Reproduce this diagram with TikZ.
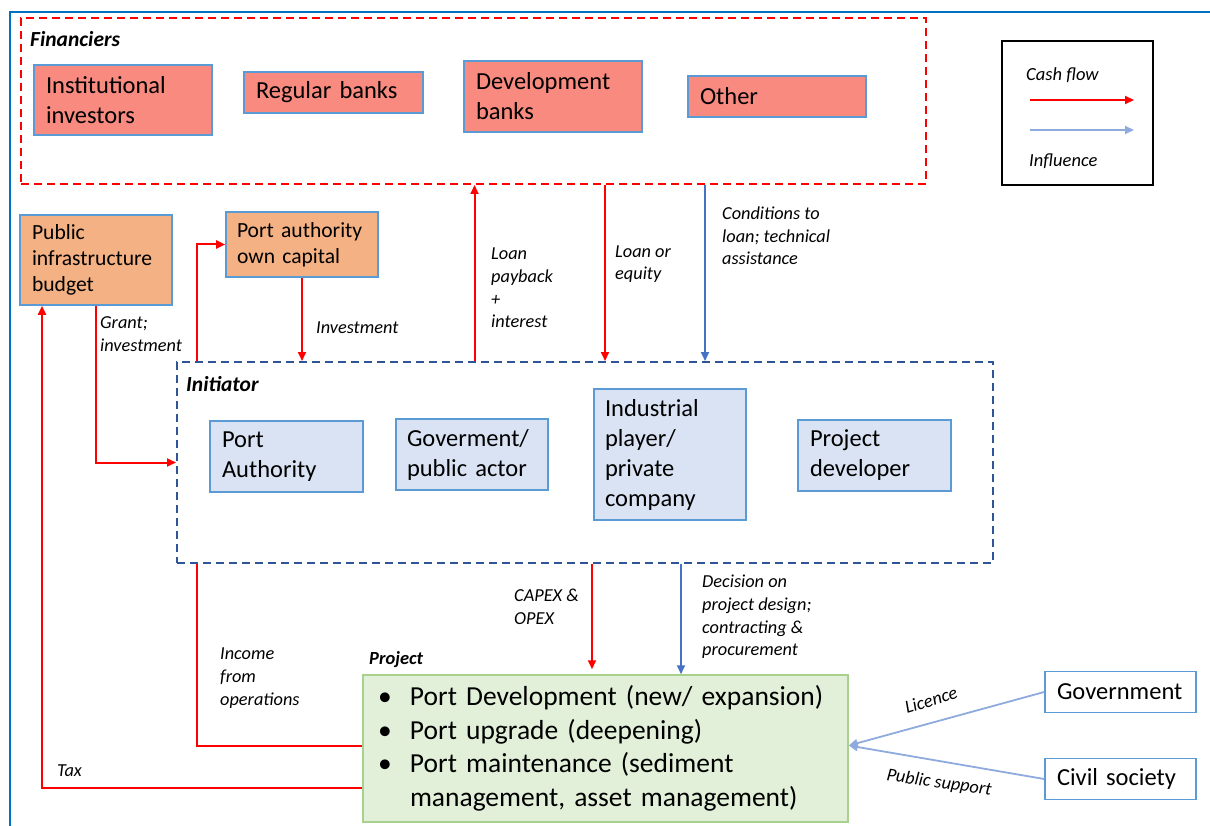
\documentclass[tikz,border=0pt]{standalone}
\usepackage{fontspec}
\setmainfont{Carlito}
\usetikzlibrary{arrows.meta}

\definecolor{framecol}{HTML}{0070C0}
\definecolor{boxblue}{HTML}{5B9BD5}
\definecolor{finfill}{HTML}{F88A80}
\definecolor{orgfill}{HTML}{F4B183}
\definecolor{initfill}{HTML}{DAE3F3}
\definecolor{initline}{HTML}{2F5597}
\definecolor{projfill}{HTML}{E2F0D9}
\definecolor{projline}{HTML}{A9D18E}
\definecolor{cashred}{HTML}{FF0000}
\definecolor{inflblue}{HTML}{4472C4}
\definecolor{inflight}{HTML}{8FAADC}

\newcommand\boxfont{\fontsize{24.5}{30}\selectfont}
\newcommand\smallboxfont{\fontsize{21.6}{25.8}\selectfont}
\newcommand\lblfont{\fontsize{18.3}{22.6}\selectfont\itshape}

\begin{document}
\begin{tikzpicture}[x=1pt,y=-1pt,
  box/.style={draw=boxblue, line width=1.6pt, inner xsep=12pt, inner ysep=0pt,
    align=left, font=\boxfont, text=black},
  group/.style={line width=2pt, dash pattern=on 8pt off 5pt, inner sep=0pt},
  lbl/.style={font=\lblfont, align=left, inner sep=0pt, anchor=west},
  head/.style={font=\fontsize{21.5}{25}\selectfont\bfseries\itshape, inner sep=0pt, anchor=west},
  cash/.style={draw=cashred, line width=2pt, -{Triangle[length=9pt,width=8pt]}},
  cashline/.style={draw=cashred, line width=2pt},
  infl/.style={draw=inflblue, line width=1.8pt, -{Triangle[length=9pt,width=8pt]}},
  soft/.style={draw=inflight, line width=1.8pt, -{Triangle[length=9pt,width=8pt]}}]

\useasboundingbox (0,0) rectangle (1210,826);

% outer frame
\draw[framecol, line width=1.8pt] (10,826) -- (10,12) -- (1210,12);

% ---------- financiers ----------
\node[group, draw=cashred, minimum width=905pt, minimum height=166pt] (fin) at (473.5,101) {};
\node[head] (finlbl) at (30,39) {Financiers};
\node[box, fill=finfill, minimum width=178pt, minimum height=70pt, text width=154pt] (inst) at (123,100) {Institutional\\investors};
\node[box, fill=finfill, minimum width=179pt, minimum height=41pt, text width=155pt] (reg) at (333.5,92.5) {Regular banks};
\node[box, fill=finfill, minimum width=178pt, minimum height=71pt, text width=154pt] (dev) at (553,96.5) {Development\\banks};
\node[box, fill=finfill, minimum width=178pt, minimum height=41pt, text width=154pt] (oth) at (777,96.5) {Other};

% ---------- legend ----------
\node[draw=black, line width=1.6pt, minimum width=151pt, minimum height=144pt, inner sep=0pt] (legend) at (1077.5,113) {};
\node[lbl, font=\fontsize{18.5}{22}\selectfont\itshape] (lcash) at (1026,75) {Cash flow};
\node[lbl, font=\fontsize{18.5}{22}\selectfont\itshape] (linfl) at (1029,161) {Influence};
\coordinate (lc1) at (1030,100);
\coordinate (lc2) at (1134,100);
\coordinate (li1) at (1030,130);
\coordinate (li2) at (1134,130);
\draw[cash] (lc1) -- (lc2);
\draw[soft] (li1) -- (li2);

% ---------- own funding sources ----------
\node[box, fill=orgfill, font=\smallboxfont, minimum width=152pt, minimum height=90pt, text width=128pt] (pib) at (96,260) {Public\\infrastructure\\budget};
\node[box, fill=orgfill, font=\smallboxfont, minimum width=152pt, minimum height=65pt, text width=130pt, inner xsep=11pt] (pac) at (302,244.5) {Port authority\\own capital};

% ---------- initiator ----------
\node[group, draw=initline, minimum width=816pt, minimum height=201pt] (init) at (585,462.5) {};
\node[head] (initlbl) at (186,384) {Initiator};
\node[box, fill=initfill, minimum width=153pt, minimum height=71pt, text width=129pt] (pa) at (286.5,456.5) {Port\\Authority};
\node[box, fill=initfill, minimum width=152pt, minimum height=71pt, text width=130pt, inner xsep=11pt] (gov) at (472,454.5) {Goverment/\\public actor};
\node[box, fill=initfill, minimum width=152pt, minimum height=131pt, text width=130pt, inner xsep=11pt] (ind) at (670,454.5) {Industrial\\player/\\private\\company};
\node[box, fill=initfill, minimum width=153pt, minimum height=71pt, text width=129pt, inner xsep=12pt] (pd) at (874.5,455.5) {Project\\developer};

% ---------- project ----------
\node[head, font=\fontsize{18.5}{22}\selectfont\bfseries\itshape] (projlbl) at (369,660) {Project};
\node[draw=projline, fill=projfill, line width=1.5pt, minimum width=485pt, minimum height=147pt,
  inner xsep=15pt, inner ysep=0pt, text width=455pt, align=left,
  font=\fontsize{27.5}{33.5}\selectfont] (proj) at (605.5,748.5)
  {\makebox[32pt][l]{\textbullet}Port Development (new/ expansion)\\
   \makebox[32pt][l]{\textbullet}Port upgrade (deepening)\\
   \makebox[32pt][l]{\textbullet}Port maintenance (sediment\\
   \hspace*{32pt}management, asset management)};

\node[box, fill=white, minimum width=151pt, minimum height=41pt, text width=127pt] (govt) at (1120.5,692) {Government};
\node[box, fill=white, minimum width=151pt, minimum height=41pt, text width=127pt] (civ) at (1120.5,779) {Civil society};

% ---------- flows between financiers and initiator ----------
\draw[cash] ([xshift=1pt]fin.south |- init.north) -- ([xshift=1pt]fin.south);
\draw[cash] ([xshift=131.5pt]fin.south) -- ([xshift=131.5pt]fin.south |- init.north);
\draw[infl] ([xshift=231.5pt]fin.south) -- ([xshift=231.5pt]fin.south |- init.north);
\node[lbl] (lpay) at (491,288) {Loan\\payback\\+\\interest};
\node[lbl] (leq) at (615,264) {Loan or\\equity};
\node[lbl] (lcond) at (722,236) {Conditions to\\loan; technical\\assistance};

% ---------- own funds ----------
\draw[cash] (pac.south) -- (pac.south |- init.north);
\node[lbl] (linv) at (316,328) {Investment};
\draw[cash] (pib.south) |- (init.west);
\node[lbl] (lgrant) at (100,334) {Grant;\\investment};
\draw[cash] ([xshift=21pt]init.north west) |- (pac.west);

% ---------- initiator to project ----------
\draw[cash] ([xshift=7pt]init.south) -- ([xshift=7pt,yshift=5pt]init.south |- proj.north);
\node[lbl] (lcapex) at (514,607) {CAPEX \&\\OPEX};
\draw[infl] ([xshift=96pt]init.south) -- ([xshift=96pt]init.south |- proj.north);
\node[lbl] (ldec) at (702,617) {Decision on\\project design;\\contracting \&\\procurement};

% ---------- returns from the project ----------
\draw[cashline] ([yshift=3pt]proj.west) -| ([xshift=21pt]init.south west);
\node[lbl] (linc) at (220,678) {Income\\from\\operations};
\draw[cash] ([yshift=-39pt]proj.west) -| ([xshift=-54pt]pib.south);
\node[lbl] (ltax) at (57,771) {Tax};

% ---------- outside influence ----------
\draw[soft] (govt.west) -- ([yshift=3pt]proj.east);
\draw[soft] (civ.west) -- ([yshift=3pt]proj.east);
\node[font=\lblfont, rotate=17, inner sep=0pt] (llic) at (931,700) {Licence};
\node[font=\lblfont, rotate=-8, inner sep=0pt] (lpub) at (939,783) {Public support};

\end{tikzpicture}
\end{document}
